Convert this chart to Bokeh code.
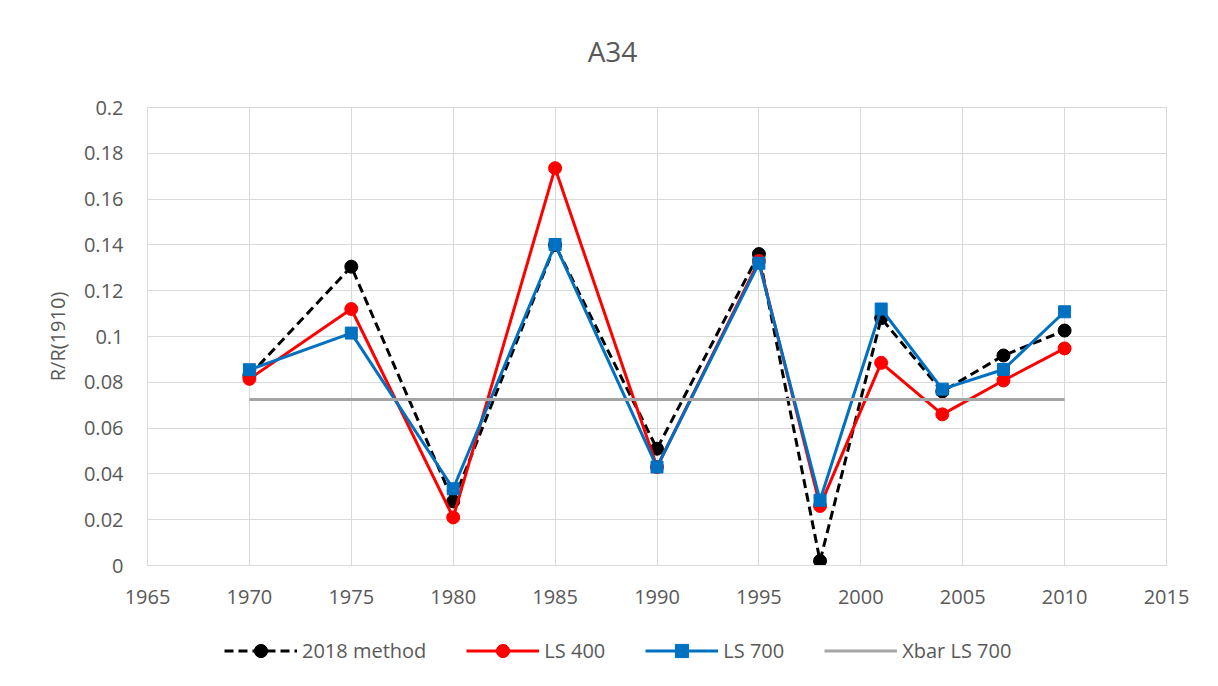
from bokeh.plotting import figure
from bokeh.layouts import column
from bokeh.models import Legend, LegendItem, CustomJSTickFormatter, FixedTicker, Range1d
from bokeh.core.properties import value
from bokeh.embed import file_html
from bokeh.resources import INLINE

# ---- data ----
years = [1970, 1975, 1980, 1985, 1990, 1995, 1998, 2001, 2004, 2007, 2010]
method_2018 = [0.083, 0.1305, 0.028, 0.1400, 0.051, 0.136, 0.002, 0.108, 0.076, 0.0917, 0.1026]
ls_400 = [0.0815, 0.112, 0.021, 0.1735, 0.043, 0.133, 0.026, 0.0885, 0.066, 0.0808, 0.0948]
ls_700 = [0.0855, 0.1015, 0.0335, 0.1402, 0.043, 0.132, 0.0285, 0.112, 0.077, 0.0856, 0.1108]
xbar_years = [1970, 2010]
xbar_ls_700 = [0.0725, 0.0725]

x_ticks = [1965, 1970, 1975, 1980, 1985, 1990, 1995, 2000, 2005, 2010, 2015]
y_ticks = [0, 0.02, 0.04, 0.06, 0.08, 0.1, 0.12, 0.14, 0.16, 0.18, 0.2]
title_text = "A34"

FONT = "Open Sans"
TXT = "#595959"
GRID = "#d9d9d9"
W = 1202
FRAME_L, FRAME_R = 147, 1166


def bare(fig):
    fig.axis.visible = False
    fig.grid.visible = False
    fig.outline_line_color = None
    fig.background_fill_color = "white"
    fig.border_fill_color = "white"


# ---- title strip (x range in page pixels across the shared frame) ----
tf = figure(width=W, height=92, output_backend="svg", toolbar_location=None,
            x_range=Range1d(FRAME_L, FRAME_R), y_range=Range1d(0, 92),
            min_border_left=FRAME_L, min_border_right=W - FRAME_R, min_border_top=0, min_border_bottom=0)
bare(tf)
tf.text(x=[612], y=[42], text=[title_text], text_font=value(FONT), text_font_size="28px",
        text_color=TXT, text_align="center", text_baseline="middle")

# ---- main plot ----
p = figure(width=W, height=522, output_backend="svg", toolbar_location=None,
           x_range=Range1d(1965, 2015), y_range=Range1d(0, 0.2),
           min_border_left=FRAME_L, min_border_right=W - FRAME_R, min_border_top=15, min_border_bottom=49)
p.outline_line_color = GRID
p.background_fill_color = "white"
p.border_fill_color = "white"

p.xaxis.ticker = FixedTicker(ticks=x_ticks)
p.yaxis.ticker = FixedTicker(ticks=y_ticks)
p.yaxis.formatter = CustomJSTickFormatter(code="return String(parseFloat(tick.toFixed(2)));")
for ax in (p.xaxis, p.yaxis):
    ax.axis_line_color = GRID
    ax.major_tick_line_color = None
    ax.minor_tick_line_color = None
    ax.major_label_text_font = FONT
    ax.major_label_text_font_size = "20px"
    ax.major_label_text_color = TXT
p.xaxis.major_label_standoff = 18
p.yaxis.major_label_standoff = 18
p.yaxis.axis_label = "R/R(1910)"
p.yaxis.axis_label_text_font = FONT
p.yaxis.axis_label_text_font_size = "20px"
p.yaxis.axis_label_text_font_style = "normal"
p.yaxis.axis_label_text_color = TXT
p.yaxis.axis_label_standoff = 10
p.xgrid.grid_line_color = GRID
p.ygrid.grid_line_color = GRID

line_styles = dict(
    m2018=dict(line_color="black", line_width=3, line_dash="9 5"),
    ls400=dict(line_color="#ff0000", line_width=3),
    ls700=dict(line_color="#0070c0", line_width=3),
    xbar=dict(line_color="#a5a5a5", line_width=3),
)
marker_styles = dict(
    m2018=dict(marker="circle", size=13, fill_color="black", line_color="black"),
    ls400=dict(marker="circle", size=13, fill_color="#ff0000", line_color="#ff0000"),
    ls700=dict(marker="square", size=12, fill_color="#0070c0", line_color="#0070c0"),
)

p.line(years, method_2018, **line_styles["m2018"])
p.scatter(years, method_2018, **marker_styles["m2018"])
p.line(years, ls_400, **line_styles["ls400"])
p.scatter(years, ls_400, **marker_styles["ls400"])
p.line(years, ls_700, **line_styles["ls700"])
p.scatter(years, ls_700, **marker_styles["ls700"])
p.line(xbar_years, xbar_ls_700, **line_styles["xbar"])

# ---- legend strip: same series, ranges chosen so only the legend shows ----
lf = figure(width=W, height=56, output_backend="svg", toolbar_location=None,
            x_range=Range1d(0, 1), y_range=Range1d(0, 1),
            min_border_left=FRAME_L, min_border_right=W - FRAME_R, min_border_top=0, min_border_bottom=0)
bare(lf)
g1 = [lf.line(years, method_2018, **line_styles["m2018"]),
      lf.scatter(years, method_2018, **marker_styles["m2018"])]
g2 = [lf.line(years, ls_400, **line_styles["ls400"]),
      lf.scatter(years, ls_400, **marker_styles["ls400"])]
g3 = [lf.line(years, ls_700, **line_styles["ls700"]),
      lf.scatter(years, ls_700, **marker_styles["ls700"])]
g4 = [lf.line(xbar_years, xbar_ls_700, **line_styles["xbar"])]

legend = Legend(items=[
    LegendItem(label="2018 method", renderers=g1),
    LegendItem(label="LS 400", renderers=g2),
    LegendItem(label="LS 700", renderers=g3),
    LegendItem(label="Xbar LS 700", renderers=g4),
], orientation="horizontal", location=(224 - FRAME_L, 3))
legend.label_text_font = FONT
legend.label_text_font_size = "20px"
legend.label_text_color = TXT
legend.glyph_width = 73
legend.glyph_height = 33
legend.label_standoff = 5
legend.spacing = 40
legend.padding = 0
legend.margin = 0
legend.border_line_color = None
legend.background_fill_alpha = 0
lf.add_layout(legend)

layout = column(tf, p, lf, spacing=0)
open("out.html", "w").write(file_html(layout, INLINE))
